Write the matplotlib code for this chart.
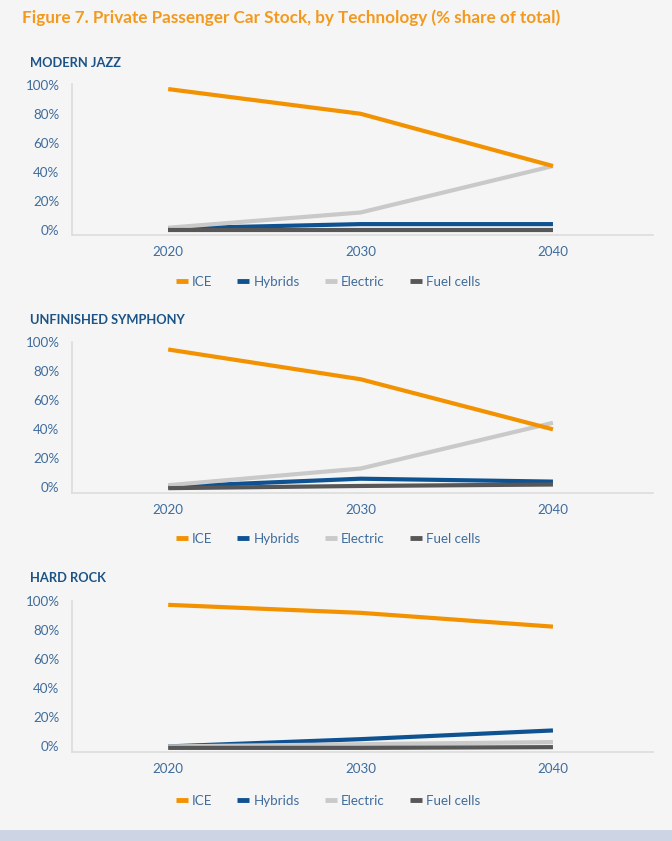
import numpy as np
import matplotlib.pyplot as plt
from matplotlib.patches import Rectangle

plt.rcParams['font.family'] = ['Lato', 'DejaVu Sans']

# data
years = [2020, 2030, 2040]
series_names = ["ICE", "Hybrids", "Electric", "Fuel cells"]
scenarios = ["MODERN JAZZ", "UNFINISHED SYMPHONY", "HARD ROCK"]

jazz_ice = [97, 80, 44]
jazz_hybrids = [1, 4, 4]
jazz_electric = [1.5, 12, 44]
jazz_fuel = [0, 0, 0]

symphony_ice = [95, 74.5, 40]
symphony_hybrids = [0.5, 6, 4]
symphony_electric = [1.5, 13, 44.5]
symphony_fuel = [-0.5, 1, 2]

rock_ice = [97.5, 92, 82.5]
rock_hybrids = [0, 5, 11]
rock_electric = [0, 1.5, 3]
rock_fuel = [-1, -1, -0.5]

yticks = [0, 20, 40, 60, 80, 100]
ytick_labels = ["0%", "20%", "40%", "60%", "80%", "100%"]

# styles
colors = ["#f39200", "#0f5291", "#c9c9c9", "#575757"]
bg = "#f5f5f5"
tick_color = "#3f6c9c"
head_color = "#1c5386"

panel_data = [
    [jazz_ice, jazz_hybrids, jazz_electric, jazz_fuel],
    [symphony_ice, symphony_hybrids, symphony_electric, symphony_fuel],
    [rock_ice, rock_hybrids, rock_electric, rock_fuel],
]

fig = plt.figure(figsize=(6.72, 8.41), dpi=100)
fig.patch.set_facecolor(bg)

fig.text(22 / 672, 1 - 18 / 841, "Figure 7. Private Passenger Car Stock, by Technology (% share of total)",
         color="#f39a1e", fontsize=12.3, fontweight="bold", va="center", ha="left")

# bottom band
fig.patches.append(Rectangle((0, 0), 1, 11 / 841, transform=fig.transFigure,
                             facecolor="#cdd5e4", edgecolor="none"))

bottoms = [235, 492.5, 751.5]
heads = [63, 320, 578]
legend_y = [282, 539, 801]

for i in range(3):
    ax = fig.add_axes([72 / 672, 1 - bottoms[i] / 841, 581 / 672, 151 / 841])
    ax.set_facecolor(bg)
    lines = {}
    for j in [1, 2, 3, 0]:
        ln, = ax.plot(years, panel_data[i][j], color=colors[j], lw=3.0,
                      solid_capstyle="butt", label=series_names[j])
        lines[j] = ln

    ax.set_xlim(2015, 2045.2)
    ax.set_ylim(-3.5, 100.5)
    ax.set_xticks(years)
    ax.set_yticks(yticks)
    ax.set_yticklabels(ytick_labels)
    ax.tick_params(length=0, colors=tick_color, labelsize=9.6)
    ax.tick_params(axis="x", pad=8)
    ax.tick_params(axis="y", pad=9)
    for s in ["top", "right"]:
        ax.spines[s].set_visible(False)
    for s in ["left", "bottom"]:
        ax.spines[s].set_color("#dcdcdc")
        ax.spines[s].set_linewidth(1.2)

    fig.text(30 / 672, 1 - heads[i] / 841, scenarios[i], color=head_color,
             fontsize=9.3, fontweight="bold", va="center", ha="left")

    leg = fig.legend([lines[k] for k in range(4)], series_names, ncol=4,
                     loc="center", bbox_to_anchor=(328 / 672, 1 - legend_y[i] / 841),
                     frameon=False, fontsize=9.6, handlelength=0.9, handletextpad=0.3,
                     columnspacing=1.9, labelcolor=tick_color)
    for h in leg.get_lines():
        h.set_linewidth(3.5)

fig.savefig("out.png", dpi=100, facecolor=bg)
